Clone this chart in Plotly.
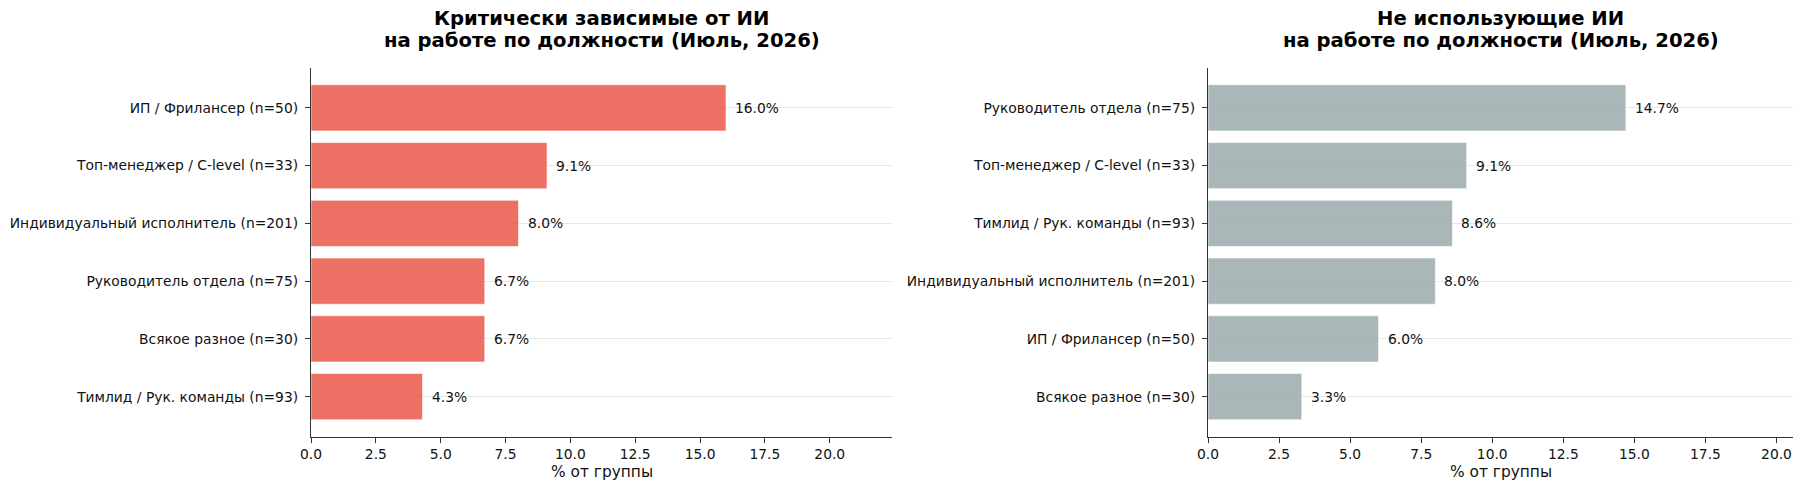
import plotly.graph_objects as go

# ---- data ----
left_categories = [
    "ИП / Фрилансер (n=50)",
    "Топ-менеджер / C-level (n=33)",
    "Индивидуальный исполнитель (n=201)",
    "Руководитель отдела (n=75)",
    "Всякое разное (n=30)",
    "Тимлид / Рук. команды (n=93)",
]
left_values = [16.0, 9.1, 8.0, 6.7, 6.7, 4.3]

right_categories = [
    "Руководитель отдела (n=75)",
    "Топ-менеджер / C-level (n=33)",
    "Тимлид / Рук. команды (n=93)",
    "Индивидуальный исполнитель (n=201)",
    "ИП / Фрилансер (n=50)",
    "Всякое разное (n=30)",
]
right_values = [14.7, 9.1, 8.6, 8.0, 6.0, 3.3]

left_title = ["Критически зависимые от ИИ", "на работе по должности (Июль, 2026)"]
right_title = ["Не использующие ИИ", "на работе по должности (Июль, 2026)"]
x_title = "% от группы"
x_ticks = [0, 2.5, 5, 7.5, 10, 12.5, 15, 17.5, 20]
x_ticklabels = ["0.0", "2.5", "5.0", "7.5", "10.0", "12.5", "15.0", "17.5", "20.0"]

W, H = 1800, 491
FONT = "DejaVu Sans"
AX = "#333333"
TICK_SIZE = 13.85
LABEL_SIZE = 13.85

fig = go.Figure()

fig.add_trace(go.Bar(
    x=left_values, y=left_categories, orientation="h",
    marker=dict(color="rgba(231,76,60,0.8)", line=dict(color="rgba(255,255,255,0.6)", width=1)),
    width=0.8, xaxis="x", yaxis="y", showlegend=False, hoverinfo="skip",
))
fig.add_trace(go.Bar(
    x=right_values, y=right_categories, orientation="h",
    marker=dict(color="rgba(149,165,166,0.8)", line=dict(color="rgba(255,255,255,0.6)", width=1)),
    width=0.8, xaxis="x2", yaxis="y2", showlegend=False, hoverinfo="skip",
))

ydom = [(H - 436.5) / H, (H - 68) / H]
xdom1 = [311 / W, 892 / W]
xdom2 = [1208 / W, 1793 / W]

axis_common = dict(
    showline=True, linecolor=AX, linewidth=1.2, mirror=False,
    ticks="outside", ticklen=5, tickwidth=1, tickcolor=AX,
    tickfont=dict(family=FONT, size=TICK_SIZE, color="#111111"),
    zeroline=False, automargin=False,
)

annotations = []
for cat, v in zip(left_categories, left_values):
    annotations.append(dict(x=v, y=cat, xref="x", yref="y", text=f"{v:.1f}%",
                            showarrow=False, xanchor="left", yanchor="middle", xshift=7,
                            font=dict(family=FONT, size=LABEL_SIZE, color="#111111")))
for cat, v in zip(right_categories, right_values):
    annotations.append(dict(x=v, y=cat, xref="x2", yref="y2", text=f"{v:.1f}%",
                            showarrow=False, xanchor="left", yanchor="middle", xshift=7,
                            font=dict(family=FONT, size=LABEL_SIZE, color="#111111")))

for dom, lines in ((xdom1, left_title), (xdom2, right_title)):
    cx = (dom[0] + dom[1]) / 2
    for ypix, line in zip((18.5, 40.5), lines):
        annotations.append(dict(x=cx, y=1 - ypix / H, xref="paper", yref="paper",
                                text=f"<b>{line}</b>", showarrow=False, xanchor="center",
                                yanchor="middle",
                                font=dict(family=FONT, size=19.6, color="#000000")))
    annotations.append(dict(x=cx, y=1 - 472 / H, xref="paper", yref="paper",
                            text=x_title, showarrow=False, xanchor="center", yanchor="middle",
                            font=dict(family=FONT, size=15.4, color="#111111")))

fig.update_layout(
    width=W, height=H,
    margin=dict(l=0, r=0, t=0, b=0),
    paper_bgcolor="white", plot_bgcolor="white",
    bargap=0.2,
    xaxis=dict(domain=xdom1, range=[0, max(left_values) * 1.4], anchor="y",
               tickvals=x_ticks, ticktext=x_ticklabels, showgrid=False, **axis_common),
    yaxis=dict(domain=ydom, anchor="x", range=[5.69, -0.69], type="category",
               showgrid=True, gridcolor="#e8e8e8", gridwidth=1, ticklabelstandoff=4, **axis_common),
    xaxis2=dict(domain=xdom2, range=[0, max(right_values) * 1.4], anchor="y2",
                tickvals=x_ticks, ticktext=x_ticklabels, showgrid=False, **axis_common),
    yaxis2=dict(domain=ydom, anchor="x2", range=[5.69, -0.69], type="category",
                showgrid=True, gridcolor="#e8e8e8", gridwidth=1, ticklabelstandoff=4, **axis_common),
    annotations=annotations,
)

fig.write_html("out.html")
